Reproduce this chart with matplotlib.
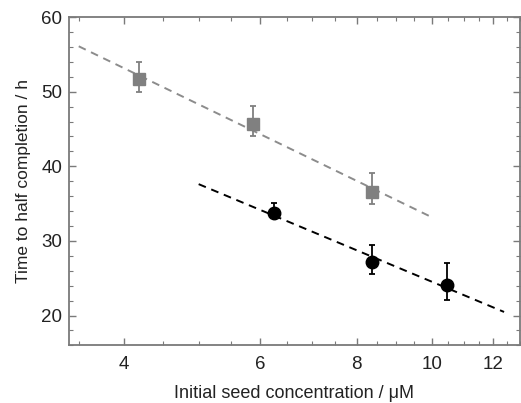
import numpy as np
import matplotlib.pyplot as plt
from matplotlib.ticker import FixedLocator, MultipleLocator, NullFormatter

plt.rcParams['font.family'] = ['Liberation Sans', 'DejaVu Sans']

# ---- data ----
# grey squares
sq_x = [4.19, 5.87, 8.38]
sq_y = [51.7, 45.7, 36.6]
sq_err_lo = [1.7, 1.6, 1.6]
sq_err_hi = [2.3, 2.4, 2.5]

# black circles
ci_x = [6.25, 8.37, 10.45]
ci_y = [33.7, 27.2, 24.1]
ci_err_lo = [0.0, 1.6, 2.0]
ci_err_hi = [1.4, 2.3, 3.0]

# ranges of the fitted (t vs ln c) lines
sq_fit_range = (3.5, 10.0)
ci_fit_range = (5.0, 12.4)

x_major = [4, 6, 8, 10, 12]
x_minor = np.arange(3.5, 13.01, 0.5)

grey = '#808080'
spine_col = '#7a7a7a'
text_col = '#222222'

fig = plt.figure(figsize=(5.21, 4.03), dpi=100)
ax = fig.add_axes([0.1324, 0.143, 0.8656, 0.8146])

# fitted dashed lines (linear in log x)
for xs, ys, rng, col in [(sq_x, sq_y, sq_fit_range, '#8c8c8c'),
                         (ci_x, ci_y, ci_fit_range, 'black')]:
    p = np.polyfit(np.log(xs), ys, 1)
    xx = np.linspace(rng[0], rng[1], 50)
    ax.plot(xx, np.polyval(p, np.log(xx)), ls=(0, (4, 3)), color=col, lw=1.4, zorder=2)

ax.errorbar(sq_x, sq_y, yerr=[sq_err_lo, sq_err_hi], fmt='s', color=grey,
            ms=8.5, mec=grey, ecolor=grey, elinewidth=1.3, capsize=2.5, capthick=1.3, zorder=3)
ax.errorbar(ci_x, ci_y, yerr=[ci_err_lo, ci_err_hi], fmt='o', color='black',
            ms=9, ecolor='black', elinewidth=1.3, capsize=2.5, capthick=1.3, zorder=3)

ax.set_xscale('log')
ax.set_xlim(3.4, 13.0)
ax.set_ylim(16, 60)

ax.xaxis.set_major_locator(FixedLocator(x_major))
ax.xaxis.set_minor_locator(FixedLocator(x_minor))
ax.xaxis.set_minor_formatter(NullFormatter())
ax.set_xticklabels([str(v) for v in x_major])
ax.yaxis.set_major_locator(MultipleLocator(10))
ax.yaxis.set_minor_locator(MultipleLocator(2))

ax.tick_params(which='both', direction='in', top=True, right=True, color=spine_col,
               labelsize=13.5, labelcolor=text_col)
ax.tick_params(which='major', length=5, width=1)
ax.tick_params(which='minor', length=3, width=0.8)
ax.tick_params(axis='x', pad=8)
ax.tick_params(axis='y', pad=5)

for s in ax.spines.values():
    s.set_color(spine_col)
    s.set_linewidth(1.3)

ax.set_xlabel('Initial seed concentration / μM', fontsize=13, color=text_col, labelpad=8)
ax.set_ylabel('Time to half completion / h', fontsize=12.5, color=text_col, labelpad=7)

fig.savefig('out.png', dpi=100)
